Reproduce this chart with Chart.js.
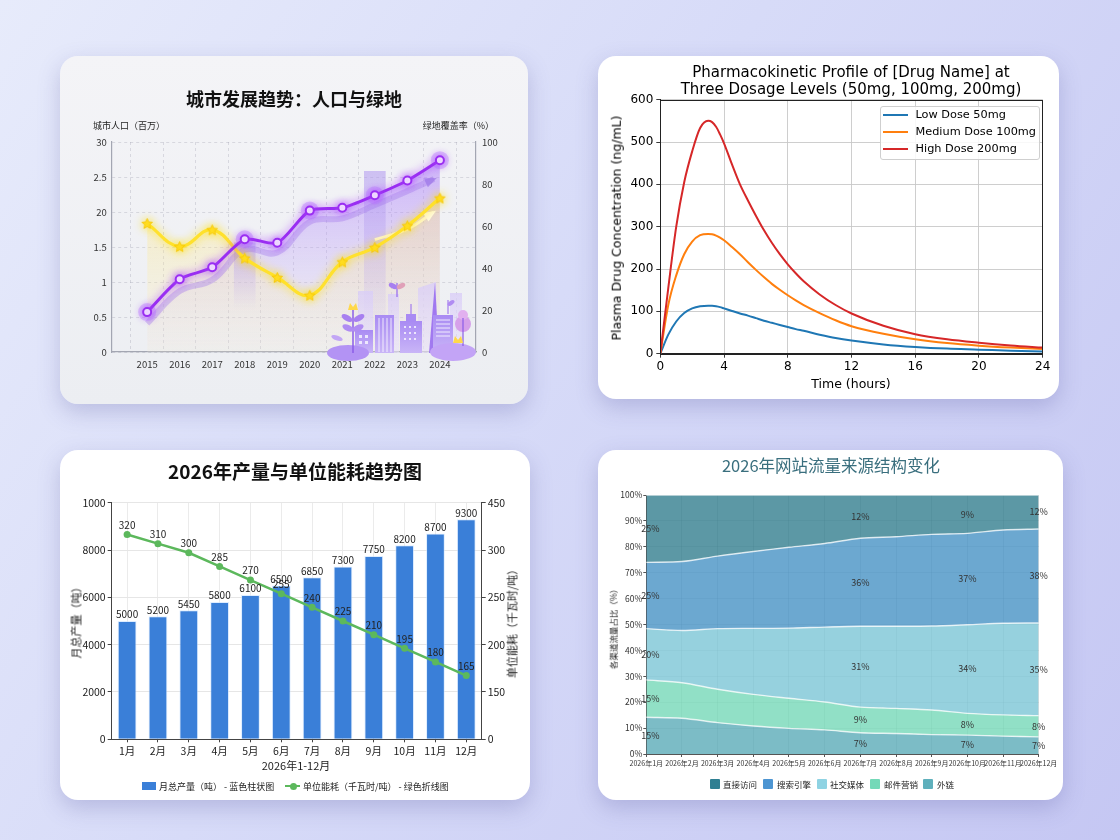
<!DOCTYPE html>
<html><head><meta charset="utf-8">
<script src="https://cdn.jsdelivr.net/npm/chart.js@4.4.1/dist/chart.umd.min.js"></script>
<style>
html,body{margin:0;padding:0;}
body{width:1120px;height:840px;overflow:hidden;position:relative;background:linear-gradient(125deg,#e7ebfb 0%,#d7dbf8 45%,#c5c7f3 100%);font-family:"Noto Sans CJK SC","Noto Sans",sans-serif;}
.card{position:absolute;border-radius:18px;box-shadow:0 8px 22px rgba(90,90,160,0.28);overflow:hidden;background:#fff;}
.card canvas{position:absolute;left:0;top:0;}
.t{position:absolute;white-space:nowrap;line-height:1;}
.c{transform:translate(-50%,-50%);}
.vm{transform:translateY(-50%);}
.rot{transform:translate(-50%,-50%) rotate(-90deg);}
.sw{position:absolute;}
</style></head>
<body>

<div class="card" style="left:60px;top:56px;width:468px;height:348px;background:linear-gradient(180deg,#f4f4f7 0%,#eceef2 100%);">
  <canvas id="ch1" width="468" height="348"></canvas>
  <svg width="468" height="348" style="position:absolute;left:0;top:0;pointer-events:none">
    <defs>
      <linearGradient id="lg1" x1="0" y1="0" x2="0" y2="1"><stop offset="0" stop-color="#d9cdf7" stop-opacity="0.8"/><stop offset="1" stop-color="#e9e1fb" stop-opacity="0.5"/></linearGradient>
      <linearGradient id="dg1" x1="0" y1="0" x2="0" y2="1"><stop offset="0" stop-color="#a98bf3"/><stop offset="1" stop-color="#c9b5f7"/></linearGradient>
    </defs>
    <rect x="298" y="235" width="15" height="62" fill="url(#lg1)"/>
    <rect x="328" y="238" width="11" height="59" fill="url(#lg1)"/>
    <polygon points="358,232 376,226 377,297 358,297" fill="url(#lg1)"/>
    <polygon points="375,226 379,297 369,297" fill="#9466ee" opacity="0.85"/>
    <rect x="390" y="237" width="12" height="60" fill="url(#lg1)"/>
    <rect x="295" y="274" width="18" height="23" fill="url(#dg1)"/>
    <rect x="315" y="259" width="19" height="38" fill="url(#dg1)"/>
    <g stroke="#fff" stroke-width="1" opacity="0.8"><line x1="319" y1="262" x2="319" y2="296"/><line x1="323" y1="262" x2="323" y2="296"/><line x1="327" y1="262" x2="327" y2="296"/><line x1="331" y1="262" x2="331" y2="296"/></g>
    <rect x="340" y="265" width="22" height="32" fill="url(#dg1)"/>
    <rect x="346" y="258" width="10" height="8" fill="#a98bf3"/>
    <line x1="351" y1="248" x2="351" y2="258" stroke="#9466ee" stroke-width="1"/>
    <rect x="373" y="259" width="20" height="38" fill="url(#dg1)"/>
    <g stroke="#fff" stroke-width="1" opacity="0.8"><line x1="376" y1="264" x2="390" y2="264"/><line x1="376" y1="268" x2="390" y2="268"/><line x1="376" y1="272" x2="390" y2="272"/><line x1="376" y1="276" x2="390" y2="276"/><line x1="376" y1="280" x2="390" y2="280"/></g>
    <g fill="#fff" opacity="0.75"><rect x="299" y="279" width="3" height="3"/><rect x="305" y="279" width="3" height="3"/><rect x="299" y="285" width="3" height="3"/><rect x="305" y="285" width="3" height="3"/><rect x="344" y="270" width="2" height="2"/><rect x="349" y="270" width="2" height="2"/><rect x="354" y="270" width="2" height="2"/><rect x="344" y="276" width="2" height="2"/><rect x="349" y="276" width="2" height="2"/><rect x="354" y="276" width="2" height="2"/><rect x="344" y="282" width="2" height="2"/><rect x="349" y="282" width="2" height="2"/><rect x="354" y="282" width="2" height="2"/></g>
    <ellipse cx="288" cy="297" rx="21" ry="8" fill="#b393f4"/>
    <ellipse cx="393" cy="296" rx="23" ry="9" fill="#c3a4f6"/>
    <line x1="293" y1="253" x2="293" y2="297" stroke="#8b5ce8" stroke-width="1.5"/>
    <ellipse cx="287" cy="262" rx="6" ry="3" fill="#a77ff0" transform="rotate(30 287 262)"/>
    <ellipse cx="299" cy="262" rx="6" ry="3" fill="#a77ff0" transform="rotate(-30 299 262)"/>
    <ellipse cx="288" cy="272" rx="6" ry="3" fill="#b08cf2" transform="rotate(25 288 272)"/>
    <ellipse cx="298" cy="272" rx="6" ry="3" fill="#b08cf2" transform="rotate(-25 298 272)"/>
    <path d="M288,254 L290,247 L293,251 L296,247 L298,254 Z" fill="#ffd84a"/>
    <ellipse cx="277" cy="282" rx="6" ry="2.5" fill="#c2a6f5" transform="rotate(20 277 282)"/>
    <line x1="337" y1="227" x2="337" y2="241" stroke="#9466ee" stroke-width="1.2"/>
    <ellipse cx="333" cy="230" rx="4.5" ry="2.5" fill="#a77ff0" transform="rotate(25 333 230)"/>
    <ellipse cx="341" cy="230" rx="4.5" ry="2.5" fill="#e0a0b8" transform="rotate(-25 341 230)"/>
    <line x1="388" y1="244" x2="388" y2="258" stroke="#9466ee" stroke-width="1"/>
    <ellipse cx="391" cy="247" rx="4" ry="2" fill="#b08cf2" transform="rotate(-35 391 247)"/>
    <circle cx="403" cy="268" r="8" fill="#d6a0ea"/>
    <circle cx="403" cy="259" r="5" fill="#e2b0ef"/>
    <line x1="403" y1="262" x2="403" y2="290" stroke="#8b5ce8" stroke-width="1.2"/>
    <path d="M393,287 L395,280 L398,284 L401,280 L403,287 Z" fill="#ffd84a"/>
  </svg>
  <div class="t c" style="left:234px;top:42px;font-size:18px;font-weight:700;color:#111;">城市发展趋势：人口与绿地</div>
  <div class="t vm" style="left:33px;top:69px;font-size:9px;color:#222;">城市人口（百万）</div>
  <div class="t vm" style="right:34px;top:69px;font-size:9px;color:#222;">绿地覆盖率（%）</div>
</div>

<div class="card" style="left:598px;top:56px;width:461px;height:343px;">
  <canvas id="ch2" width="461" height="343"></canvas>
  <div class="t c" style="left:253px;top:16px;font-family:'DejaVu Sans';font-size:15px;color:#000;">Pharmacokinetic Profile of [Drug Name] at</div>
  <div class="t c" style="left:253px;top:33px;font-family:'DejaVu Sans';font-size:15px;color:#000;">Three Dosage Levels (50mg, 100mg, 200mg)</div>
  <div class="t rot" style="left:19px;top:172px;font-family:'DejaVu Sans';font-size:12.5px;color:#000;">Plasma Drug Concentration (ng/mL)</div>
  <div class="t c" style="left:253px;top:327.5px;font-family:'DejaVu Sans';font-size:12.5px;color:#000;">Time (hours)</div>
  <div style="position:absolute;left:281.5px;top:49.5px;width:160px;height:54px;border:1px solid #cfcfcf;border-radius:3px;background:rgba(255,255,255,0.85);box-sizing:border-box;"></div>
  <div class="sw" style="left:285px;top:58px;width:25px;height:2px;background:#1f77b4;"></div>
  <div class="sw" style="left:285px;top:75px;width:25px;height:2px;background:#ff7f0e;"></div>
  <div class="sw" style="left:285px;top:92px;width:25px;height:2px;background:#d62728;"></div>
  <div class="t vm" style="left:317.5px;top:59px;font-family:'DejaVu Sans';font-size:11.3px;color:#000;">Low Dose 50mg</div>
  <div class="t vm" style="left:317.5px;top:76px;font-family:'DejaVu Sans';font-size:11.3px;color:#000;">Medium Dose 100mg</div>
  <div class="t vm" style="left:317.5px;top:93px;font-family:'DejaVu Sans';font-size:11.3px;color:#000;">High Dose 200mg</div>
</div>

<div class="card" style="left:60px;top:450px;width:470px;height:350px;">
  <canvas id="ch3" width="470" height="350"></canvas>
  <div class="t c" style="left:235px;top:19.5px;font-size:19px;font-weight:700;color:#111;">2026年产量与单位能耗趋势图</div>
  <div class="t rot" style="left:16px;top:170px;font-size:11px;color:#222;">月总产量（吨）</div>
  <div class="t rot" style="left:452px;top:171px;font-size:11px;color:#222;">单位能耗（千瓦时/吨）</div>
  <div class="t c" style="left:236px;top:315px;font-size:11px;color:#222;">2026年1-12月</div>
  <div class="sw" style="left:82px;top:331.5px;width:14px;height:8.5px;background:#3a7fd8;"></div>
  <div class="t vm" style="left:99px;top:336px;font-size:9px;color:#222;">月总产量（吨） - 蓝色柱状图</div>
  <div class="sw" style="left:225px;top:335px;width:15px;height:2px;background:#5cb85c;"></div>
  <div class="sw" style="left:229.5px;top:332.5px;width:7px;height:7px;border-radius:50%;background:#5cb85c;"></div>
  <div class="t vm" style="left:243px;top:336px;font-size:9px;color:#222;">单位能耗（千瓦时/吨） - 绿色折线图</div>
</div>

<div class="card" style="left:598px;top:450px;width:465px;height:350px;">
  <canvas id="ch4" width="465" height="350"></canvas>
  <div class="t c" style="left:233px;top:15px;font-size:16.5px;color:#3a6f7e;">2026年网站流量来源结构变化</div>
  <div class="t rot" style="left:15px;top:177px;font-size:8.5px;color:#222;">各渠道流量占比（%）</div>
  <div class="sw" style="left:111.5px;top:329px;width:10px;height:10px;background:#2e7f92;border-radius:1px;"></div>
  <div class="t vm" style="left:125px;top:334px;font-size:8.5px;color:#222;">直接访问</div>
  <div class="sw" style="left:165px;top:329px;width:10px;height:10px;background:#4d95d2;border-radius:1px;"></div>
  <div class="t vm" style="left:179px;top:334px;font-size:8.5px;color:#222;">搜索引擎</div>
  <div class="sw" style="left:218.5px;top:329px;width:10px;height:10px;background:#8fd3e3;border-radius:1px;"></div>
  <div class="t vm" style="left:232px;top:334px;font-size:8.5px;color:#222;">社交媒体</div>
  <div class="sw" style="left:272px;top:329px;width:10px;height:10px;background:#74d9b8;border-radius:1px;"></div>
  <div class="t vm" style="left:286px;top:334px;font-size:8.5px;color:#222;">邮件营销</div>
  <div class="sw" style="left:325px;top:329px;width:10px;height:10px;background:#5fb0bc;border-radius:1px;"></div>
  <div class="t vm" style="left:339px;top:334px;font-size:8.5px;color:#222;">外链</div>
</div>

<script>
// ===== Chart 1: 城市发展趋势 =====
const years = [2015, 2016, 2017, 2018, 2019, 2020, 2021, 2022, 2023, 2024];
const population = [5.7, 10.4, 12.1, 16.1, 15.6, 20.2, 20.6, 22.4, 24.5, 27.4];
const greenCoverage = [61.2, 50.2, 58.2, 44.7, 35.5, 27.0, 42.9, 49.8, 60.1, 73.3];
const popTrendYears = [2015, 2016, 2017, 2018, 2019, 2020, 2021, 2022, 2023, 2023.82];
const popTrendValues = [4.1, 8.7, 10.3, 14.6, 14.2, 18.6, 19.1, 21.0, 23.0, 24.7];
const greenTrendYears = [2022.0, 2023.0, 2023.8];
const greenTrendValues = [53.5, 58.5, 66.5];
const popTickValues = [0, 5, 10, 15, 20, 25, 30];
const popTickLabels = ['0', '0.5', '1', '1.5', '20', '2.5', '30'];
const haloYears = [2015, 2018, 2020, 2022, 2024];
const columnYears = [2018, 2022];
const columnRanges = [[6, 15.6], [0, 25.8]];

// ===== Chart 2: Pharmacokinetics =====
const timeHours = [0, 0.5, 1, 1.5, 2, 2.5, 3, 3.25, 3.5, 3.75, 4, 4.5, 5, 5.5, 6, 6.5, 7, 7.5, 8, 8.5, 9, 10, 11, 12, 14, 16, 18, 20, 22, 24];
const lowDose = [0, 45, 76, 96, 107, 112, 113, 113, 112, 110, 107, 101, 95, 90, 84, 78, 73, 68, 63, 58, 54, 45, 37, 31, 22, 16, 12, 9.6, 7, 5];
const mediumDose = [0, 115, 185, 235, 265, 280, 283, 282, 279, 274, 268, 252, 235, 216, 198, 181, 165, 151, 138, 126, 115, 96, 79, 65, 47, 34, 25, 19, 14.5, 11];
const highDose = [0, 155, 300, 405, 478, 533, 550, 547, 536, 518, 497, 447, 400, 362, 326, 292, 262, 235, 211, 190, 171, 140, 115, 95, 66, 46, 34, 26, 19.5, 14.5];

// ===== Chart 3: 产量与能耗 =====
const months = ['1月', '2月', '3月', '4月', '5月', '6月', '7月', '8月', '9月', '10月', '11月', '12月'];
const monthlyOutput = [5000, 5200, 5450, 5800, 6100, 6500, 6850, 7300, 7750, 8200, 8700, 9300];
const unitEnergy = [320, 310, 300, 285, 270, 255, 240, 225, 210, 195, 180, 165];
const rightTickLabels = ['0', '150', '200', '250', '300', '450'];

// ===== Chart 4: 流量来源 =====
const trafficMonths = ['2026年1月', '2026年2月', '2026年3月', '2026年4月', '2026年5月', '2026年6月', '2026年7月', '2026年8月', '2026年9月', '2026年10月', '2026年11月', '2026年12月'];
const extLinks = [14.2, 13.8, 12.1, 10.8, 9.9, 9.3, 8.2, 7.9, 7.5, 7.3, 6.9, 6.6];
const emailMarketing = [14.4, 13.7, 12.9, 12.2, 11.6, 10.8, 9.9, 9.7, 9.5, 8.4, 8.2, 8.2];
const socialMedia = [19.8, 20.2, 23.4, 25.5, 27.1, 28.9, 31.2, 31.7, 32.4, 34.2, 35.4, 35.8];
const searchEngine = [25.6, 26.6, 28.0, 29.7, 31.2, 32.3, 34.0, 34.6, 35.4, 35.3, 36.0, 36.3];
const directVisit = [26.0, 25.7, 23.6, 21.8, 20.2, 18.7, 16.7, 16.1, 15.2, 14.8, 13.5, 13.1];
const labelMonthIdx = [0, 6, 9, 11];
const extLbl = ['15%', '7%', '7%', '7%'];
const emailLbl = ['15%', '9%', '8%', '8%'];
const socialLbl = ['20%', '31%', '34%', '35%'];
const searchLbl = ['25%', '36%', '37%', '38%'];
const directLbl = ['25%', '12%', '9%', '12%'];

Chart.defaults.font.family = '"Noto Sans CJK SC","Noto Sans",sans-serif';
Chart.defaults.animation = false;
Chart.defaults.responsive = false;

function xy(xs, ys) { return xs.map((x, i) => ({ x: x, y: ys[i] })); }

function makeStar(size, fill, stroke) {
  const c = document.createElement('canvas'); c.width = c.height = size;
  const g = c.getContext('2d'); const cx = size / 2, cy = size / 2 + 0.5, R = size / 2 - 1, r = R * 0.47;
  g.beginPath();
  for (let i = 0; i < 10; i++) { const a = -Math.PI / 2 + i * Math.PI / 5; const rr = i % 2 ? r : R; g.lineTo(cx + rr * Math.cos(a), cy + rr * Math.sin(a)); }
  g.closePath(); g.fillStyle = fill; g.fill(); g.lineWidth = 0.8; g.strokeStyle = stroke; g.stroke();
  return c;
}

const glowPlugin = {
  id: 'glow',
  beforeDatasetDraw(chart, args) {
    const ds = chart.data.datasets[args.index];
    if (ds.glowColor) { const c = chart.ctx; c.save(); c.shadowColor = ds.glowColor; c.shadowBlur = ds.glowBlur || 10; }
  },
  afterDatasetDraw(chart, args) {
    const ds = chart.data.datasets[args.index];
    if (ds.glowColor) chart.ctx.restore();
  }
};

const arrowPlugin = {
  id: 'arrows',
  afterDatasetDraw(chart, args) {
    const ds = chart.data.datasets[args.index];
    if (!ds.arrowColor) return;
    const pts = args.meta.data; const n = pts.length; if (n < 2) return;
    const p = pts[n - 1], q = pts[n - 2];
    const a = Math.atan2(p.y - q.y, p.x - q.x); const L = 9, W = 5;
    const c = chart.ctx; c.save(); c.fillStyle = ds.arrowColor; c.beginPath();
    c.moveTo(p.x + Math.cos(a) * 3, p.y + Math.sin(a) * 3);
    c.lineTo(p.x - Math.cos(a) * L + Math.sin(a) * W, p.y - Math.sin(a) * L - Math.cos(a) * W);
    c.lineTo(p.x - Math.cos(a) * L - Math.sin(a) * W, p.y - Math.sin(a) * L + Math.cos(a) * W);
    c.closePath(); c.fill(); c.restore();
  }
};

function vGrad(chart, stops) {
  const ca = chart.chartArea; if (!ca) return stops[0][1];
  const g = chart.ctx.createLinearGradient(0, ca.top, 0, ca.bottom);
  stops.forEach(s => g.addColorStop(s[0], s[1])); return g;
}

// ---------- Chart 1 ----------
const starImg = makeStar(13, '#ffdc1e', '#f5c400');
new Chart(document.getElementById('ch1'), {
  type: 'line',
  data: {
    datasets: [
      { label: '城市人口', data: xy(years, population), yAxisID: 'y', order: 1,
        borderColor: '#9a2ef2', borderWidth: 3, tension: 0.25, fill: false,
        pointRadius: 4, pointHoverRadius: 4, pointBackgroundColor: '#ffffff', pointBorderColor: '#9a2ef2', pointBorderWidth: 2,
        glowColor: 'rgba(175,70,255,0.85)', glowBlur: 9 },
      { label: 'halo', data: xy(haloYears, haloYears.map(y => population[years.indexOf(y)])), yAxisID: 'y', order: 2,
        showLine: false, pointRadius: 9, pointBackgroundColor: 'rgba(185,125,255,0.38)', pointBorderWidth: 0 },
      { label: '绿地覆盖率', data: xy(years, greenCoverage), yAxisID: 'y1', order: 3,
        borderColor: '#ffe12e', borderWidth: 3.2, tension: 0.4, fill: false,
        pointStyle: starImg, pointRadius: 7, glowColor: 'rgba(255,225,0,0.9)', glowBlur: 10 },
      { label: 'popTrend', data: xy(popTrendYears, popTrendValues), yAxisID: 'y', order: 4,
        borderColor: 'rgba(165,125,235,0.4)', borderWidth: 6, tension: 0.4, pointRadius: 0, fill: false,
        arrowColor: 'rgba(150,110,230,0.6)' },
      { label: 'greenTrend', data: xy(greenTrendYears, greenTrendValues), yAxisID: 'y1', order: 5,
        borderColor: 'rgba(255,248,215,0.95)', borderWidth: 3, tension: 0.4, pointRadius: 0, fill: false,
        arrowColor: 'rgba(255,250,225,1)' },
      { label: 'greenArea', data: xy(years, greenCoverage), yAxisID: 'y1', order: 6,
        borderWidth: 0, pointRadius: 0, tension: 0.4, fill: 'origin',
        backgroundColor: ctx => vGrad(ctx.chart, [[0, 'rgba(255,226,100,0.40)'], [0.5, 'rgba(255,232,140,0.30)'], [1, 'rgba(255,245,200,0.15)']]) },
      { label: 'popArea', data: xy(years, population), yAxisID: 'y', order: 7,
        borderWidth: 0, pointRadius: 0, tension: 0.25, fill: 'origin',
        backgroundColor: ctx => vGrad(ctx.chart, [[0, 'rgba(165,110,250,0.55)'], [0.45, 'rgba(185,150,250,0.35)'], [1, 'rgba(215,200,250,0.05)']]) },
      { type: 'bar', label: 'columns', data: columnYears.map((y, i) => ({ x: y, y: columnRanges[i] })), yAxisID: 'y', order: 8,
        barThickness: 21,
        backgroundColor: ctx => {
          const ch = ctx.chart; const r = ctx.raw; if (!ch.chartArea || !r) return 'rgba(180,155,240,0.3)';
          const y0 = ch.scales.y.getPixelForValue(r.y[1]), y1 = ch.scales.y.getPixelForValue(r.y[0]);
          const g = ch.ctx.createLinearGradient(0, y0, 0, y1);
          g.addColorStop(0, 'rgba(175,150,240,0.55)'); g.addColorStop(1, 'rgba(190,170,240,0.0)'); return g;
        } }
    ]
  },
  options: {
    layout: { padding: { left: 21.7, right: 22, top: 86, bottom: 30 } },
    plugins: { legend: { display: false }, tooltip: { enabled: false }, filler: { drawTime: 'beforeDatasetsDraw' } },
    scales: {
      x: { type: 'linear', min: 2014.47, max: 2024.55,
        afterBuildTicks: s => { s.ticks = years.map(v => ({ value: v })); },
        afterFit: s => { s.height = 22; },
        ticks: { callback: v => String(v), font: { size: 9.5 }, color: '#333', padding: 7, maxRotation: 0 },
        grid: { color: 'rgba(120,120,140,0.22)', drawTicks: false },
        border: { display: true, color: '#a3a6b2', width: 1.2, dash: [3, 3] } },
      y: { min: 0, max: 30, position: 'left',
        afterBuildTicks: s => { s.ticks = popTickValues.map(v => ({ value: v })); },
        afterFit: s => { s.width = 30; },
        ticks: { callback: (v, i) => popTickLabels[i], font: { size: 9.5 }, color: '#333', padding: 5 },
        grid: { color: 'rgba(120,120,140,0.22)', drawTicks: false },
        border: { display: true, color: '#a3a6b2', width: 1.2, dash: [3, 3] } },
      y1: { min: 0, max: 100, position: 'right',
        afterFit: s => { s.width = 30; },
        ticks: { stepSize: 20, font: { size: 9.5 }, color: '#333', padding: 6 },
        grid: { display: false, drawTicks: false },
        border: { display: true, color: '#a3a6b2', width: 1.2 } }
    }
  },
  plugins: [glowPlugin, arrowPlugin]
});

// ---------- Chart 2 ----------
const framePlugin = {
  id: 'frame',
  afterDraw(chart) {
    const a = chart.chartArea, c = chart.ctx; c.save(); c.strokeStyle = '#222'; c.lineWidth = 1;
    c.strokeRect(Math.round(a.left) + 0.5, Math.round(a.top) + 0.5, Math.round(a.right - a.left), Math.round(a.bottom - a.top)); c.restore();
  }
};
const pkFont = { family: 'DejaVu Sans', size: 12 };
new Chart(document.getElementById('ch2'), {
  type: 'line',
  data: {
    datasets: [
      { label: 'Low Dose 50mg', data: xy(timeHours, lowDose), borderColor: '#1f77b4', order: 3 },
      { label: 'Medium Dose 100mg', data: xy(timeHours, mediumDose), borderColor: '#ff7f0e', order: 2 },
      { label: 'High Dose 200mg', data: xy(timeHours, highDose), borderColor: '#d62728', order: 1 }
    ]
  },
  options: {
    elements: { line: { borderWidth: 2, cubicInterpolationMode: 'monotone', fill: false }, point: { radius: 0 } },
    layout: { padding: { left: 15.3, right: 16.3, top: 43.7, bottom: 20.3 } },
    plugins: { legend: { display: false }, tooltip: { enabled: false } },
    scales: {
      x: { type: 'linear', min: 0, max: 24,
        afterFit: s => { s.height = 25; },
        ticks: { stepSize: 4, font: pkFont, color: '#000', padding: 2, maxRotation: 0 },
        grid: { color: '#c8c8c8', lineWidth: 0.9, tickColor: '#222', tickLength: 4 },
        border: { color: '#222', width: 1 } },
      y: { min: 0, max: 600,
        afterFit: s => { s.width = 47; },
        ticks: { stepSize: 100, font: pkFont, color: '#000', padding: 3 },
        grid: { color: '#c8c8c8', lineWidth: 0.9, tickColor: '#222', tickLength: 4 },
        border: { color: '#222', width: 1 } }
    }
  },
  plugins: [framePlugin]
});

// ---------- Chart 3 ----------
const valueLabelPlugin = {
  id: 'valueLabels',
  afterDatasetsDraw(chart) {
    const c = chart.ctx; c.save(); c.font = '10px "Noto Sans CJK SC","Noto Sans",sans-serif'; c.fillStyle = '#222';
    c.textAlign = 'center'; c.textBaseline = 'bottom';
    chart.getDatasetMeta(1).data.forEach((el, i) => { c.fillText(String(monthlyOutput[i]), el.x, el.y - 1.5); });
    chart.getDatasetMeta(0).data.forEach((el, i) => { c.fillText(String(unitEnergy[i]), el.x, el.y - 4.5); });
    c.restore();
  }
};
new Chart(document.getElementById('ch3'), {
  data: {
    labels: months,
    datasets: [
      { type: 'line', label: '单位能耗（千瓦时/吨）', data: unitEnergy, yAxisID: 'y1', order: 0,
        borderColor: '#5cb85c', backgroundColor: '#5cb85c', borderWidth: 2.5, tension: 0,
        pointRadius: 3.5, pointBackgroundColor: '#5cb85c', pointBorderWidth: 0 },
      { type: 'bar', label: '月总产量（吨）', data: monthlyOutput, yAxisID: 'y', order: 1,
        backgroundColor: '#3a7fd8', borderColor: 'rgba(200,225,255,0.6)', borderWidth: { top: 1, left: 1, right: 1, bottom: 0 },
        barPercentage: 0.61, categoryPercentage: 1.0 }
    ]
  },
  options: {
    layout: { padding: { left: 11.7, right: 8.3, top: 52.7, bottom: 38.7 } },
    plugins: { legend: { display: false }, tooltip: { enabled: false } },
    scales: {
      x: { afterFit: s => { s.height = 22; },
        ticks: { font: { size: 10.5 }, color: '#222', padding: 2, maxRotation: 0, autoSkip: false },
        grid: { offset: false, color: '#ebebeb', tickColor: '#444', tickLength: 3 },
        border: { color: '#444', width: 1 } },
      y: { min: 0, max: 10000, position: 'left',
        afterFit: s => { s.width = 40; },
        ticks: { stepSize: 2000, font: { size: 10.5 }, color: '#222', padding: 2, callback: v => v === 10000 ? '1000' : String(v) },
        grid: { color: '#e6e6e6', tickColor: '#444', tickLength: 4 },
        border: { color: '#444', width: 1 } },
      y1: { min: 95, max: 355, position: 'right',
        afterBuildTicks: s => { s.ticks = rightTickLabels.map((l, i) => ({ value: 95 + 52 * i })); },
        afterFit: s => { s.width = 40; },
        ticks: { font: { size: 10.5 }, color: '#222', padding: 2, callback: (v, i) => rightTickLabels[i] },
        grid: { drawOnChartArea: false, tickColor: '#444', tickLength: 4 },
        border: { color: '#444', width: 1 } }
    }
  },
  plugins: [valueLabelPlugin]
});

// ---------- Chart 4 ----------
const seriesLabels = [extLbl, emailLbl, socialLbl, searchLbl, directLbl];
const pctLabelPlugin = {
  id: 'pctLabels',
  afterDatasetsDraw(chart) {
    const c = chart.ctx; const ys = chart.scales.y;
    c.save(); c.font = '9px "Noto Sans CJK SC","Noto Sans",sans-serif'; c.fillStyle = '#333'; c.textAlign = 'center'; c.textBaseline = 'middle';
    seriesLabels.forEach((lbls, d) => {
      const meta = chart.getDatasetMeta(d);
      labelMonthIdx.forEach((mi, k) => {
        const top = meta.data[mi];
        const bottomY = d === 0 ? ys.getPixelForValue(0) : chart.getDatasetMeta(d - 1).data[mi].y;
        let x = top.x; if (mi === 0) x += 4;
        c.fillText(lbls[k], x, (top.y + bottomY) / 2);
      });
    });
    c.restore();
  }
};
function area(label, data, color, fill) {
  return { label, data, fill, backgroundColor: color, borderColor: 'rgba(255,255,255,0.75)', borderWidth: 1.4, pointRadius: 0, tension: 0.3 };
}
new Chart(document.getElementById('ch4'), {
  type: 'line',
  data: {
    labels: trafficMonths,
    datasets: [
      area('外链', extLinks, 'rgba(91,171,184,0.8)', 'origin'),
      area('邮件营销', emailMarketing, 'rgba(117,216,184,0.8)', '-1'),
      area('社交媒体', socialMedia, 'rgba(124,198,214,0.8)', '-1'),
      area('搜索引擎', searchEngine, 'rgba(71,146,196,0.8)', '-1'),
      area('直接访问', directVisit, 'rgba(51,126,143,0.8)', '-1')
    ]
  },
  options: {
    layout: { padding: { left: 14.3, right: 24.3, top: 45, bottom: 30 } },
    plugins: { legend: { display: false }, tooltip: { enabled: false } },
    scales: {
      x: { afterFit: s => { s.height = 16; },
        ticks: { font: { size: 7 }, color: '#333', padding: 2, maxRotation: 0, autoSkip: false },
        grid: { offset: false, color: 'rgba(0,0,0,0.12)', tickColor: '#555', tickLength: 3 },
        border: { color: '#555', width: 1 } },
      y: { stacked: true, min: 0, max: 100,
        afterFit: s => { s.width = 34; },
        ticks: { stepSize: 10, font: { size: 8.5 }, color: '#333', padding: 1, callback: v => v + '%' },
        grid: { color: 'rgba(0,0,0,0.1)', tickColor: '#555', tickLength: 3 },
        border: { color: '#555', width: 1 } }
    }
  },
  plugins: [pctLabelPlugin]
});
</script>
</body></html>
